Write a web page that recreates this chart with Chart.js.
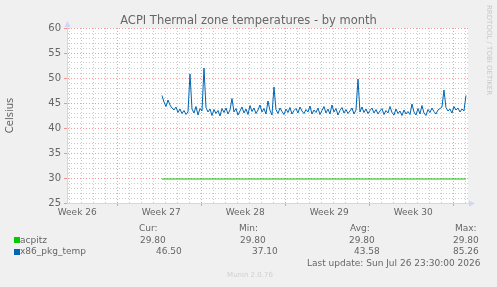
<!DOCTYPE html>
<html><head><meta charset="utf-8">
<script src="https://cdn.jsdelivr.net/npm/chart.js@4.4.0/dist/chart.umd.min.js"></script>
<style>
html,body{margin:0;padding:0;background:#f0f0f0;}
#wrap{position:relative;width:497px;height:287px;overflow:hidden;font-family:'DejaVu Sans';color:#666;}
canvas{position:absolute;left:0;top:0;}
.t{position:absolute;font-size:9px;line-height:10px;white-space:nowrap;color:#666;}
.sw{position:absolute;width:6px;height:6px;}
</style></head><body>
<div id="wrap"><canvas id="c" width="497" height="287"></canvas></div>
<script>
// ---- data ----
const chartTitle = 'ACPI Thermal zone temperatures - by month';
const yAxisTitle = 'Celsius';
const weekLabels = ['Week 26', 'Week 27', 'Week 28', 'Week 29', 'Week 30'];
const weekLabelPos = [-3.4, 3.6, 10.6, 17.6, 24.6];   // days from start of week 27
const xMin = -4.25, xMax = 29.17;                     // visible range in days
const yMin = 25, yMax = 60;
const seriesNames = ['acpitz', 'x86_pkg_temp'];
const seriesColors = ['#00cc00', '#0066b3'];
const sampleStart = 3.667;        // first sample (days)
const sampleStep = 1 / 6;         // 4-hour samples
const acpitzValues = [29.8, 29.8];
const acpitzTimes = [3.667, 29.0];
const x86Values = [
 46.5,45.2,44.3,45.6,44.6,44.0,43.6,44.2,43.1,43.8,42.9,43.5,42.7,43.2,50.8,43.8,43.0,44.3,42.6,43.9,
 43.4,52.0,44.1,43.2,43.8,42.5,43.7,42.9,43.5,42.4,43.9,43.1,44.0,42.8,43.6,45.9,43.2,43.9,42.6,43.4,
 44.2,43.0,43.8,42.7,44.5,43.3,44.0,42.9,43.6,44.6,43.2,43.9,42.8,45.4,43.5,42.6,48.2,43.7,42.9,44.0,
 43.3,42.7,43.8,43.1,44.1,42.8,43.5,43.9,43.0,44.2,43.4,42.9,43.7,43.2,44.4,42.8,43.6,43.1,44.0,42.7,
 43.5,44.3,43.0,43.8,42.8,44.6,43.2,43.9,42.6,43.5,44.1,43.0,43.7,42.9,43.4,44.0,42.8,43.6,49.8,43.2,
 44.2,43.1,43.8,42.9,43.5,44.0,43.0,43.7,42.8,43.4,43.9,42.7,43.5,43.0,44.3,43.1,42.6,43.8,42.9,43.4,
 42.5,43.6,42.8,43.3,42.7,44.8,43.2,42.6,43.9,42.8,44.5,43.0,42.5,43.7,43.1,44.0,43.3,42.8,43.6,43.9,
 44.2,47.6,44.1,43.4,43.8,43.0,44.3,43.6,44.0,43.2,43.8,43.4,46.5
];
const legendHeaders = ['Cur:', 'Min:', 'Avg:', 'Max:'];
const legendCur = ['29.80', '46.50'];
const legendMin = ['29.80', '37.10'];
const legendAvg = ['29.80', '43.58'];
const legendMax = ['29.80', '85.26'];
const lastUpdate = 'Last update: Sun Jul 26 23:30:00 2026';
const footer = 'Munin 2.0.76';
const sideText = 'RRDTOOL / TOBI OETIKER';

// ---- build ----
const FONT = 'DejaVu Sans';
const x86Points = x86Values.map((v, i) => ({x: sampleStart + i * sampleStep, y: v}));
const acpitzPoints = acpitzValues.map((v, i) => ({x: acpitzTimes[i], y: v}));

const wrap = document.getElementById('wrap');
function addText(txt, left, top, extra) {
  const d = document.createElement('div');
  d.className = 't'; d.textContent = txt;
  d.style.left = left + 'px'; d.style.top = top + 'px';
  if (extra) Object.assign(d.style, extra);
  wrap.appendChild(d);
  return d;
}
addText(chartTitle, 248.5, 13, {fontSize: '11.5px', lineHeight: '14px', transform: 'translateX(-50%)'});
const colLeft = [139, 239, 350, 455];
legendHeaders.forEach((h, i) => addText(h, colLeft[i], 223));
const rowTop = [234.5, 246];
const valLeft = [[140, 240, 349, 453], [156, 252, 354, 453]];
seriesNames.forEach((n, r) => {
  const sw = document.createElement('div'); sw.className = 'sw';
  sw.style.left = '14px'; sw.style.top = (rowTop[r] + 2.5) + 'px'; sw.style.background = seriesColors[r];
  wrap.appendChild(sw);
  addText(n, 20, rowTop[r]);
  [legendCur, legendMin, legendAvg, legendMax].forEach((arr, c) => addText(arr[r], valLeft[r][c], rowTop[r]));
});
addText(lastUpdate, 307, 258);
addText(footer, 250, 270, {fontSize: '7px', color: '#d0d0d0', transform: 'translateX(-50%)'});
addText(sideText, 484, 5, {fontSize: '7px', color: '#c8c8c8', writingMode: 'vertical-rl'});

const bgPlugin = {
  id: 'bg',
  beforeDraw(chart) {
    const {ctx, chartArea: a} = chart;
    ctx.save(); ctx.fillStyle = '#ffffff';
    ctx.fillRect(a.left, a.top, a.right - a.left, a.bottom - a.top);
    ctx.restore();
  }
};
const arrowPlugin = {
  id: 'arrows',
  afterDraw(chart) {
    const {ctx, chartArea: a} = chart;
    const L = Math.round(a.left) + 0.5, B = Math.round(a.bottom) + 0.5;
    ctx.save();
    ctx.strokeStyle = '#cfd6f8'; ctx.fillStyle = '#cfd6f8'; ctx.lineWidth = 1;
    ctx.beginPath(); ctx.moveTo(L, a.top); ctx.lineTo(L, a.top - 4); ctx.stroke();
    ctx.beginPath(); ctx.moveTo(a.right, B); ctx.lineTo(a.right + 4, B); ctx.stroke();
    ctx.beginPath(); ctx.moveTo(L - 3, a.top - 1); ctx.lineTo(L + 3, a.top - 1); ctx.lineTo(L, a.top - 7); ctx.closePath(); ctx.fill();
    ctx.beginPath(); ctx.moveTo(a.right + 1, B - 3); ctx.lineTo(a.right + 1, B + 3); ctx.lineTo(a.right + 7, B); ctx.closePath(); ctx.fill();
    ctx.restore();
  }
};
const MAJOR = 'rgba(235,120,120,0.75)', MINOR = 'rgba(190,190,190,0.8)';
const isWeekLine = v => Number.isInteger(v) && ((v % 7) + 7) % 7 === 0;

new Chart(document.getElementById('c'), {
  type: 'line',
  data: {datasets: [
    {label: seriesNames[0], data: acpitzPoints, borderColor: seriesColors[0], borderWidth: 1, pointRadius: 0, tension: 0, fill: false},
    {label: seriesNames[1], data: x86Points, borderColor: seriesColors[1], borderWidth: 1, pointRadius: 0, tension: 0, fill: false}
  ]},
  options: {
    responsive: false, animation: false, events: [],
    layout: {padding: {left: 0, right: 29, top: 28, bottom: 0}},
    plugins: {legend: {display: false}, tooltip: {enabled: false}, title: {display: false}},
    scales: {
      x: {
        type: 'linear', min: xMin, max: xMax,
        afterBuildTicks(s) {
          const vals = [];
          for (let d = Math.ceil(xMin); d <= Math.floor(xMax); d++) vals.push(d);
          weekLabelPos.forEach(p => vals.push(p));
          vals.sort((a, b) => a - b);
          s.ticks = vals.map(v => ({value: v}));
        },
        afterFit(s) { s.height = 84; },
        ticks: {autoSkip: false, maxRotation: 0, minRotation: 0, padding: 1, color: '#666', font: {family: FONT, size: 9},
          callback(v) { const i = weekLabelPos.indexOf(v); return i >= 0 ? weekLabels[i] : ''; }},
        grid: {
          color(c) { const v = c.tick && c.tick.value; if (weekLabelPos.indexOf(v) >= 0) return 'rgba(0,0,0,0)'; return isWeekLine(v) ? MAJOR : MINOR; },
          tickColor(c) { const v = c.tick && c.tick.value; return isWeekLine(v) ? MAJOR : 'rgba(0,0,0,0)'; },
          tickLength: 3, lineWidth: 1
        },
        border: {color: '#cfd6f8', width: 1, dash: [1, 2]}
      },
      y: {
        min: yMin, max: yMax,
        afterBuildTicks(s) { const vals = []; for (let v = yMin; v <= yMax; v++) vals.push({value: v}); s.ticks = vals; },
        afterFit(s) { s.width = 67; },
        ticks: {autoSkip: false, padding: 3, color: '#666', font: {family: FONT, size: 10},
          callback(v) { return v % 5 === 0 ? String(v) : ''; }},
        grid: {
          color(c) { const v = c.tick && c.tick.value; return v % 5 === 0 ? MAJOR : MINOR; },
          tickColor(c) { const v = c.tick && c.tick.value; return v % 5 === 0 ? MAJOR : 'rgba(0,0,0,0)'; },
          tickLength: 3, lineWidth: 1
        },
        border: {color: '#cfd6f8', width: 1, dash: [1, 2]},
        title: {display: true, text: yAxisTitle, color: '#666', font: {family: FONT, size: 10}, padding: {top: 4, bottom: 0}}
      }
    }
  },
  plugins: [bgPlugin, arrowPlugin]
});
</script>
</body></html>
